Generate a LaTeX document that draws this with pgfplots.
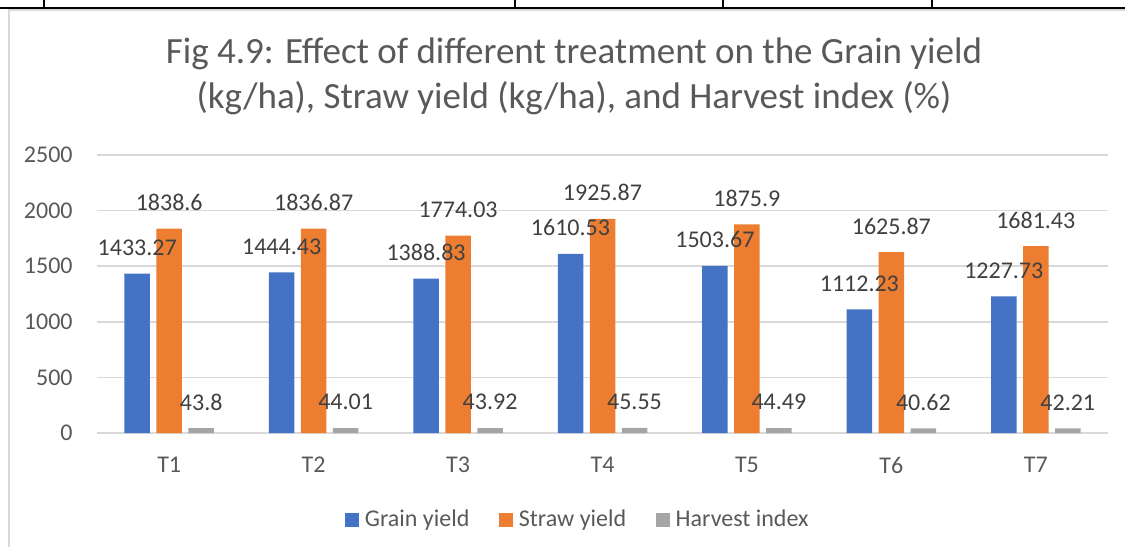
\documentclass[border=0pt]{standalone}
\usepackage{fontspec}
\setmainfont{Carlito}
\usepackage{pgfplots}
\pgfplotsset{compat=1.18}
\definecolor{grain}{HTML}{4472C4}
\definecolor{straw}{HTML}{ED7D31}
\definecolor{hindex}{HTML}{A5A5A5}
\definecolor{txt}{HTML}{595959}
\definecolor{lbl}{HTML}{404040}
\definecolor{gridc}{HTML}{D9D9D9}
\newcommand{\tickfont}{\fontsize{12}{14.4}\selectfont}

\begin{document}
\begin{tikzpicture}
\useasboundingbox (0,0) rectangle (562.5pt,273.5pt);
% table cell borders above the chart
\draw[black, line width=0.7pt] (0,269.5pt) -- (562.5pt,269.5pt);
\foreach \x in {22,257.5,361.5,466}
  \draw[black, line width=0.7pt] (\x pt,273.5pt) -- (\x pt,269.5pt);
% chart area frame
\draw[gridc, line width=1pt] (4.5pt,0) -- (4.5pt,268.3pt) -- (562.5pt,268.3pt);
% title
\node[anchor=base, text=txt, font=\fontsize{18.5}{22}\selectfont, inner sep=0pt]
  at (287pt,241.5pt) {Fig 4.9: Effect of different treatment on the Grain yield};
\node[anchor=base, text=txt, font=\fontsize{18.5}{22}\selectfont, inner sep=0pt]
  at (287pt,219pt) {(kg/ha), Straw yield (kg/ha), and Harvest index (\%)};

\begin{axis}[
  at={(48.5pt,57pt)}, anchor=south west,
  scale only axis, width=505.5pt, height=139pt,
  xmin=-0.5, xmax=6.5, ymin=0, ymax=2500,
  ybar=3.25pt, bar width=12.75pt,
  axis line style={draw=none},
  xtick={0,1,2,3,4,5,6},
  xticklabels={T1,T2,T3,T4,T5,T6,T7},
  ytick={0,500,1000,1500,2000,2500},
  major tick length=0pt,
  ymajorgrids, grid style={gridc, line width=0.8pt},
  tick label style={font=\tickfont, text=txt, inner sep=0pt},
  yticklabel style={anchor=east, xshift=-12pt},
  xticklabel style={anchor=center, yshift=-16pt},
  /pgf/number format/assume math mode=true,
  /pgf/number format/1000 sep={},
  point meta=explicit symbolic,
  nodes near coords,
  every node near coord/.append style={font=\tickfont, text=lbl,
    anchor=center, yshift=13pt, inner sep=0pt},
  legend style={at={(0.4748,-0.313)}, anchor=center, draw=none, fill=none,
    font=\tickfont, text=txt, legend columns=3, inner sep=0pt,
    nodes={inner sep=0pt},
    /tikz/every odd column/.append style={column sep=2.75pt},
    /tikz/every even column/.append style={column sep=15pt}},
  legend cell align=left,
  legend image code/.code={\fill[#1] (0pt,-3.5pt) rectangle (7pt,3.5pt);},
]
\addplot[fill=grain, draw=none] coordinates {
  (0,1433.27) [1433.27]
  (1,1444.43) [1444.43]
  (2,1388.83) [1388.83]
  (3,1610.53) [1610.53]
  (4,1503.67) [1503.67]
  (5,1112.23) [1112.23]
  (6,1227.73) [1227.73]
};
\addplot[fill=straw, draw=none] coordinates {
  (0,1838.6) [1838.6]
  (1,1836.87) [1836.87]
  (2,1774.03) [1774.03]
  (3,1925.87) [1925.87]
  (4,1875.9) [1875.9]
  (5,1625.87) [1625.87]
  (6,1681.43) [1681.43]
};
\addplot[fill=hindex, draw=none] coordinates {
  (0,43.8) [43.8]
  (1,44.01) [44.01]
  (2,43.92) [43.92]
  (3,45.55) [45.55]
  (4,44.49) [44.49]
  (5,40.62) [40.62]
  (6,42.21) [42.21]
};
\legend{Grain yield, Straw yield, Harvest index}
\end{axis}
\end{tikzpicture}
\end{document}
